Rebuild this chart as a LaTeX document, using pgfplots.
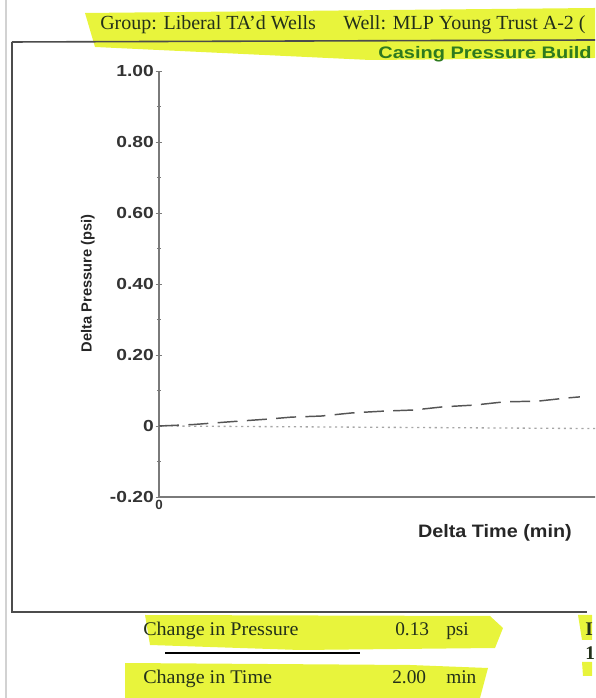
\documentclass[border=0pt]{standalone}
\usepackage{pgfplots}
\pgfplotsset{compat=1.18}
\usepackage{fontspec}
\setmainfont{Liberation Serif}
\newfontfamily\arialfont{Liberation Sans}
\definecolor{hl}{HTML}{E8F43C}
\definecolor{ink}{HTML}{23301A}
\definecolor{casing}{HTML}{2E7A1F}
\definecolor{axgray}{HTML}{7A7A7A}
\definecolor{trend}{HTML}{555555}

% casing pressure build-up
\pgfplotstableread{
t      dp
0.00   0.000
0.16   0.004
0.34   0.012
0.53   0.020
0.63   0.025
0.77   0.028
0.92   0.037
1.07   0.042
1.21   0.045
1.35   0.054
1.50   0.059
1.64   0.068
1.80   0.070
1.94   0.079
2.00   0.082
}\builddata

\begin{document}
\begin{tikzpicture}
\useasboundingbox (0,0) rectangle (446.25pt,523.5pt);
\clip (0,0) rectangle (446.25pt,523.5pt);

% page furniture, in scan pixels measured from the top-left corner
\begin{scope}[x=0.75pt, y=-0.75pt, shift={(0,523.5pt)}]
% marker highlights
\fill[hl] (85,13) -- (595,8) -- (595,58) -- (370,60) -- (95,47) -- cycle;
\fill[hl] (145,615) -- (490,616) -- (503,628) -- (495,648) -- (300,650) -- (150,645) -- cycle;
\fill[hl] (125,663) -- (410,665) -- (488,668) -- (480,698) -- (125,698) -- cycle;
\fill[hl] (578,615) -- (592,615) -- (592,640) -- (582,640) -- cycle;
\fill[hl] (582,662) -- (592,662) -- (592,676) -- (583,676) -- cycle;

% page edge and frame
\draw[gray!35, line width=1.5pt] (6,0) -- (6,698);
\draw[black!70, line width=1.2pt] (12,42) -- (595,40);
\draw[black!70, line width=1.2pt] (12,42) -- (12,612) -- (587,612);

% header
\node[anchor=base west, text=ink, font=\fontsize{15}{16}\selectfont, inner sep=0pt] at (100,30) {Group: Liberal TA'd Wells};
\node[anchor=base west, text=ink, font=\fontsize{15}{16}\selectfont, inner sep=0pt] at (343,30) {Well: MLP Young Trust A-2 (};
\node[anchor=base west, text=casing, font=\arialfont\bfseries\fontsize{12.5}{13}\selectfont, inner sep=0pt, xscale=1.2] at (378,59) {Casing Pressure Build};

% footer
\node[anchor=base west, text=ink, font=\fontsize{14.5}{15}\selectfont, inner sep=0pt, xscale=1.04] at (143,636) {Change in Pressure};
\node[anchor=base west, text=ink, font=\fontsize{14.5}{15}\selectfont, inner sep=0pt] at (395,636) {0.13};
\node[anchor=base west, text=ink, font=\fontsize{14.5}{15}\selectfont, inner sep=0pt] at (446,636) {psi};
\draw[black, line width=2.2pt] (165,653) -- (360,653);
\node[anchor=base west, text=ink, font=\fontsize{14.5}{15}\selectfont, inner sep=0pt, xscale=1.04] at (143,684) {Change in Time};
\node[anchor=base west, text=ink, font=\fontsize{14.5}{15}\selectfont, inner sep=0pt] at (392,684) {2.00};
\node[anchor=base west, text=ink, font=\fontsize{14.5}{15}\selectfont, inner sep=0pt] at (446,684) {min};
\node[anchor=base west, text=ink, font=\bfseries\fontsize{14.5}{15}\selectfont, inner sep=0pt] at (585,636) {I};
\node[anchor=base west, text=ink, font=\bfseries\fontsize{14.5}{15}\selectfont, inner sep=0pt] at (585,660) {1};
\end{scope}

% the chart: origin at scan pixel (159,497)
\begin{axis}[
    at={(119.25pt,150.75pt)}, anchor=south west,
    scale only axis,
    width=363pt, height=319.5pt,
    xmin=0, xmax=2.3,
    ymin=-0.2, ymax=1.0,
    axis x line*=bottom,
    axis y line*=left,
    axis line style={axgray, line width=0.9pt},
    xtick={0}, xticklabels={0},
    ytick={-0.2,0,0.2,0.4,0.6,0.8,1.0},
    yticklabels={-0.20,0,0.20,0.40,0.60,0.80,1.00},
    minor ytick={-0.1,0.1,0.3,0.5,0.7,0.9},
    tick align=center,
    major tick length=5pt,
    minor tick length=3pt,
    every tick/.style={axgray, line width=0.6pt},
    xtick style={draw=none},
    yticklabel style={font=\arialfont\bfseries\fontsize{12}{13}\selectfont, text=black!80, inner sep=1pt, xscale=1.2, anchor=east},
    xticklabel style={font=\arialfont\bfseries\fontsize{10}{11}\selectfont, text=black!80, inner sep=1pt, yshift=1pt},
    xlabel={Delta Time (min)},
    ylabel={Delta Pressure (psi)},
    every axis x label/.style={at={(rel axis cs:0.694,-0.085)}, anchor=center,
        font=\arialfont\bfseries\fontsize{13.5}{14}\selectfont, text=black!85, xscale=1.1},
    every axis y label/.style={at={(rel axis cs:-0.147,0.502)}, anchor=center, rotate=90,
        font=\arialfont\bfseries\fontsize{11}{12}\selectfont, text=black!85},
    clip=false,
]
% zero reference
\addplot[gray!70, line width=1pt, dash pattern=on 1.6pt off 2.8pt] coordinates {(0,0) (2.3,-0.008)};
% measured build-up
\addplot[trend, line width=1.1pt, dash pattern=on 15pt off 7pt] table[x=t, y=dp] {\builddata};
\end{axis}
\end{tikzpicture}
\end{document}
